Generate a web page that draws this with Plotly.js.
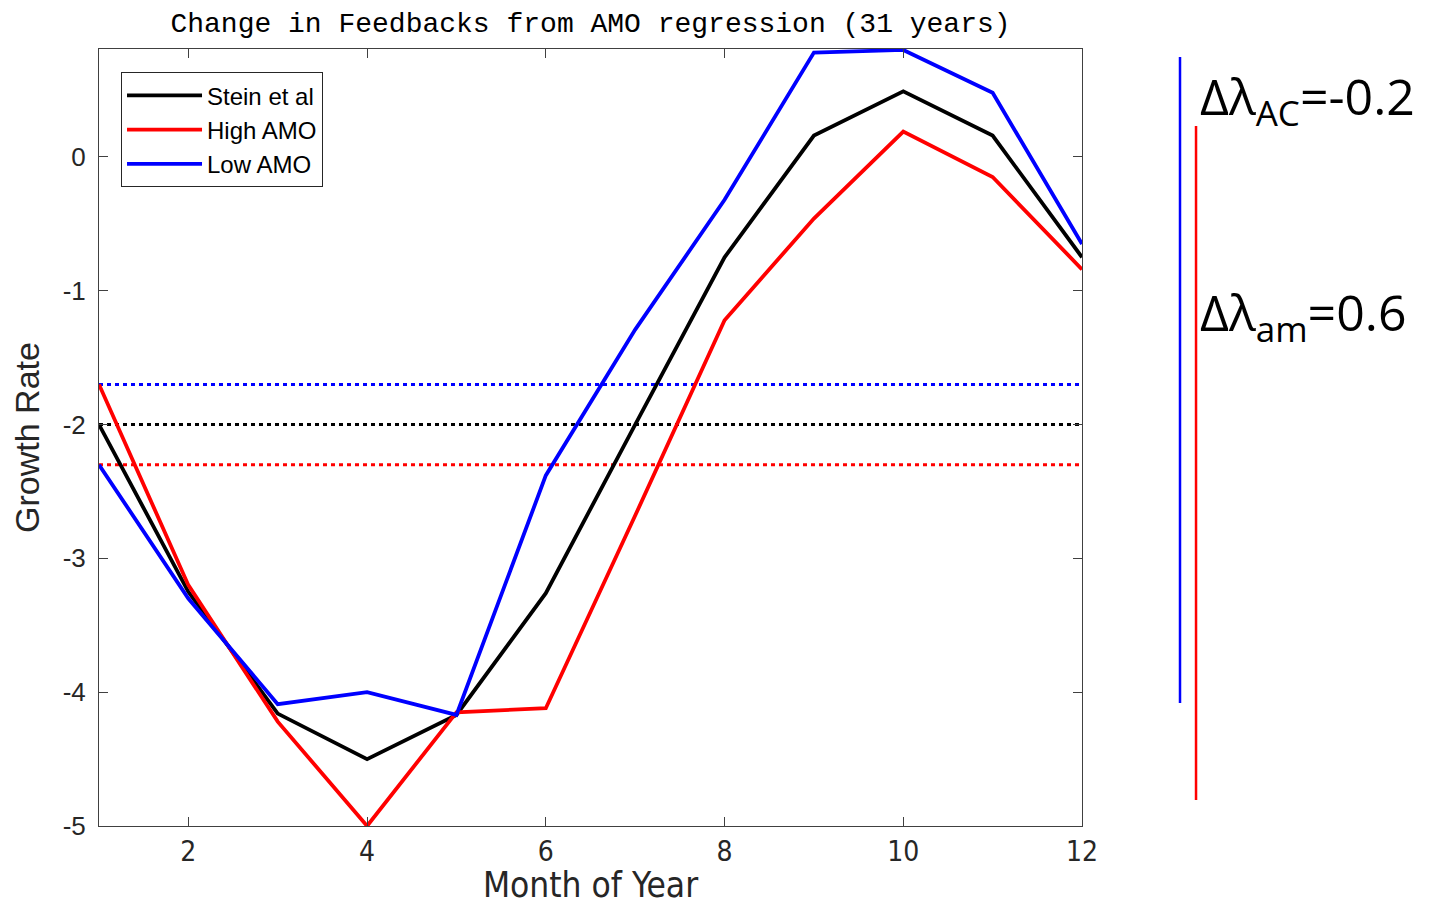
<!DOCTYPE html>
<html>
<head>
<meta charset="utf-8">
<script src="https://cdn.plot.ly/plotly-3.0.1.min.js"></script>
<style>
  html, body { margin: 0; padding: 0; background: #fff; }
  #chart { width: 1448px; height: 905px; }
</style>
</head>
<body>
<div id="chart"></div>
<script>
// Month of year
const months = [1, 2, 3, 4, 5, 6, 7, 8, 9, 10, 11, 12];

// Monthly growth rates
const steinEtAl = [-2.00, -3.25, -4.16, -4.50, -4.17, -3.26, -2.00, -0.75, 0.16, 0.49, 0.16, -0.75];
const highAMO   = [-1.70, -3.20, -4.22, -5.00, -4.15, -4.12, -2.68, -1.22, -0.46, 0.19, -0.15, -0.84];
const lowAMO    = [-2.30, -3.30, -4.09, -4.00, -4.17, -2.38, -1.29, -0.32, 0.78, 0.80, 0.48, -0.65];

// Annual-mean reference levels (dotted)
const meanStein = -2.0;
const meanHigh  = -2.3;
const meanLow   = -1.7;

// Side labels for the feedback changes
const deltaLabels = ['Δλ<sub>AC</sub>=-0.2', 'Δλ<sub>am</sub>=0.6'];

const xTicks = [2, 4, 6, 8, 10, 12];
const yTicks = [-5, -4, -3, -2, -1, 0];

const BLUE = '#0000ff', RED = '#ff0000', BLACK = '#000000';
const AXC = '#404040';
const NARROW = '"Liberation Sans Narrow", "Arial Narrow", "DejaVu Sans Condensed", "Liberation Sans", Arial, sans-serif';
const SANS = '"Liberation Sans", Arial, sans-serif';

// Horizontal level spanning the full month range
const xEnds = [months[0], months[months.length - 1]];
function flat(v) { return xEnds.map(() => v); }

const traces = [
  { x: xEnds, y: flat(meanLow), mode: 'lines', showlegend: false, hoverinfo: 'skip',
    line: { color: BLUE, width: 3, dash: '4px,4px' } },
  { x: xEnds, y: flat(meanStein), mode: 'lines', showlegend: false, hoverinfo: 'skip',
    line: { color: BLACK, width: 3, dash: '4px,4px' } },
  { x: xEnds, y: flat(meanHigh), mode: 'lines', showlegend: false, hoverinfo: 'skip',
    line: { color: RED, width: 3, dash: '4px,4px' } },
  { x: months, y: steinEtAl, mode: 'lines', name: 'Stein et al',
    line: { color: BLACK, width: 3.8 } },
  { x: months, y: highAMO, mode: 'lines', name: 'High AMO',
    line: { color: RED, width: 3.8 } },
  { x: months, y: lowAMO, mode: 'lines', name: 'Low AMO',
    line: { color: BLUE, width: 3.8 } }
];

const layout = {
  width: 1448,
  height: 905,
  paper_bgcolor: '#ffffff',
  plot_bgcolor: '#ffffff',
  margin: { l: 99, r: 366, t: 49, b: 79, pad: 0 },
  title: {
    text: 'Change in Feedbacks from AMO regression (31 years)',
    font: { family: '"Liberation Mono", "Courier New", monospace', size: 28, color: '#000' },
    x: 0.5, xanchor: 'center', xref: 'paper',
    y: 0.976, yanchor: 'middle'
  },
  xaxis: {
    range: [1, 12],
    tickvals: xTicks,
    ticktext: xTicks.map(String),
    ticks: 'inside', ticklen: 9, tickwidth: 1, tickcolor: AXC,
    showline: true, linecolor: AXC, linewidth: 1, mirror: 'ticks',
    showgrid: false, zeroline: false,
    ticklabelstandoff: 0,
    tickfont: { family: NARROW, size: 28, color: '#262626' },
    title: {
      text: 'Month of Year',
      font: { family: NARROW, size: 35, color: '#262626' },
      standoff: 8
    }
  },
  yaxis: {
    range: [-5, 0.807],
    tickvals: yTicks,
    ticktext: yTicks.map(String),
    ticks: 'inside', ticklen: 9, tickwidth: 1, tickcolor: AXC,
    showline: true, linecolor: AXC, linewidth: 1, mirror: 'ticks',
    showgrid: false, zeroline: false,
    ticklabelstandoff: 7,
    tickfont: { family: SANS, size: 26, color: '#262626' },
    title: {
      text: 'Growth Rate',
      font: { family: SANS, size: 34, color: '#262626' },
      standoff: 12
    }
  },
  showlegend: true,
  legend: {
    x: 0.0224, y: 0.970, xanchor: 'left', yanchor: 'top',
    bgcolor: '#ffffff', bordercolor: '#262626', borderwidth: 1,
    font: { family: SANS, size: 24, color: '#000' },
    itemwidth: 75,
    tracegroupgap: 0
  },
  shapes: [
    { type: 'line', xref: 'paper', yref: 'paper', x0: 1.0997, x1: 1.0997, y0: 0.9897, y1: 0.1583,
      line: { color: BLUE, width: 2.5 } },
    { type: 'line', xref: 'paper', yref: 'paper', x0: 1.1160, x1: 1.1160, y0: 0.9009, y1: 0.0335,
      line: { color: RED, width: 2.5 } }
  ],
  annotations: [
    { text: deltaLabels[0], xref: 'paper', yref: 'paper', x: 1.118, y: 0.936,
      xanchor: 'left', yanchor: 'middle', showarrow: false,
      font: { family: '"Open Sans", Lato, sans-serif', size: 50, color: '#000' } },
    { text: deltaLabels[1], xref: 'paper', yref: 'paper', x: 1.118, y: 0.658,
      xanchor: 'left', yanchor: 'middle', showarrow: false,
      font: { family: '"Open Sans", Lato, sans-serif', size: 50, color: '#000' } }
  ]
};

Plotly.newPlot('chart', traces, layout, { displayModeBar: false, responsive: false });
</script>
</body>
</html>
